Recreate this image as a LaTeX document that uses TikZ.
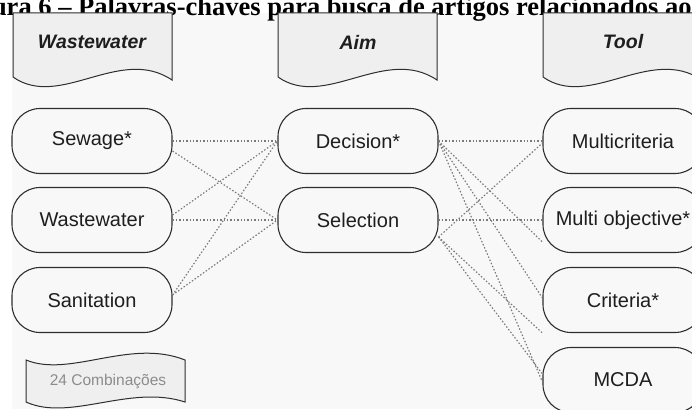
\documentclass[tikz,border=0pt]{standalone}
\usepackage{fontspec}
\setmainfont{Liberation Serif}
\newfontfamily\arialfam{Liberation Sans}
\definecolor{bgc}{HTML}{F8F8F8}
\definecolor{hdrc}{HTML}{EFEFEF}
\definecolor{edgec}{HTML}{2E2E2E}
\definecolor{txtc}{HTML}{1E1E1E}
\definecolor{linkc}{HTML}{7A7A7A}
\definecolor{notec}{HTML}{8C8C8C}
\tikzset{
  docbox/.pic={%
    \path[hdrshape] (0,0) -- (159,0) -- (159,67)
      .. controls (107,32) and (47,97) .. (0,64) -- cycle;
  }
}
\begin{document}
\begin{tikzpicture}[x=1pt,y=-1pt,
  term/.style={draw=edgec, fill=bgc, line width=1.1pt, rounded corners=28pt,
    minimum width=160pt, minimum height=65pt, inner sep=0pt,
    font=\arialfam\fontsize{20pt}{23pt}\selectfont, text=txtc},
  hdrshape/.style={draw=edgec, fill=hdrc, line width=1pt},
  hdrtext/.style={font=\arialfam\bfseries\itshape\fontsize{19.5pt}{22pt}\selectfont, text=txtc},
  tapeshape/.style={draw=edgec, fill=hdrc, line width=1pt},
  link/.style={draw=linkc, line width=1.15pt, dash pattern=on 1.5pt off 1.9pt},
]
\useasboundingbox (0,0) rectangle (692,409);
\clip (0,0) rectangle (692,409);
\fill[white] (0,0) rectangle (692,409);
\fill[bgc] (12,13) rectangle (692,409);

% caption line
\node[anchor=base west, inner sep=0pt, font=\bfseries\fontsize{26.5pt}{30pt}\selectfont] (caption) at (-45,16)
  {Figura 6 – Palavras-chaves para busca de artigos relacionados ao};

% column headers
\pic at (13,13) {docbox};
\pic at (278,13) {docbox};
\pic at (543,13) {docbox};
\node[hdrtext] (hWaste) at (92,42) {Wastewater};
\node[hdrtext] (hAim) at (358,42) {Aim};
\node[hdrtext] (hTool) at (623,42) {Tool};

% terms
\node[term] (sewage) at (92,141) {Sewage*};
\node[term] (waste) at (92,220) {Wastewater};
\node[term] (sanit) at (92,300) {Sanitation};
\node[term] (decision) at (358,141) {Decision*};
\node[term] (selection) at (358,220) {Selection};
\node[term] (multicrit) at (623,141) {Multicriteria};
\node[term] (multiobj) at (623,220) {Multi objective*};
\node[term] (criteria) at (623,300) {Criteria*};
\node[term] (mcda) at (623,380) {MCDA};

% combinations note
\path[tapeshape] (26,360) .. controls (70,378) and (130,338) .. (185,360)
  -- (185,402) .. controls (130,384) and (70,422) .. (26,402) -- cycle;
\node[font=\arialfam\fontsize{15.5pt}{18pt}\selectfont, text=notec] (combos) at (108,382) {24 Combinações};

% links: wastewater terms to aim terms
\draw[link] (sewage.east) -- (decision.west);
\draw[link] ([yshift=-10pt]sewage.east) -- (selection.west);
\draw[link] ([yshift=5pt]waste.east) -- (decision.west);
\draw[link] (waste.east) -- (selection.west);
\draw[link] ([yshift=5pt]sanit.east) -- (decision.west);
\draw[link] ([yshift=5pt]sanit.east) -- (selection.west);

% links: aim terms to tool terms
\draw[link] (decision.east) -- (multicrit.west);
\draw[link] (decision.east) -- ([yshift=-22pt]multiobj.west);
\draw[link] (decision.east) -- ([yshift=2pt]criteria.west);
\draw[link] (decision.east) -- ([yshift=-2pt]mcda.west);
\draw[link] ([yshift=-17pt]selection.east) -- ([yshift=-2pt]multicrit.west);
\draw[link] (selection.east) -- (multiobj.west);
\draw[link] ([yshift=-17pt]selection.east) -- (criteria.south west);
\draw[link] ([yshift=-17pt]selection.east) -- ([yshift=6pt]mcda.west);
\end{tikzpicture}
\end{document}
